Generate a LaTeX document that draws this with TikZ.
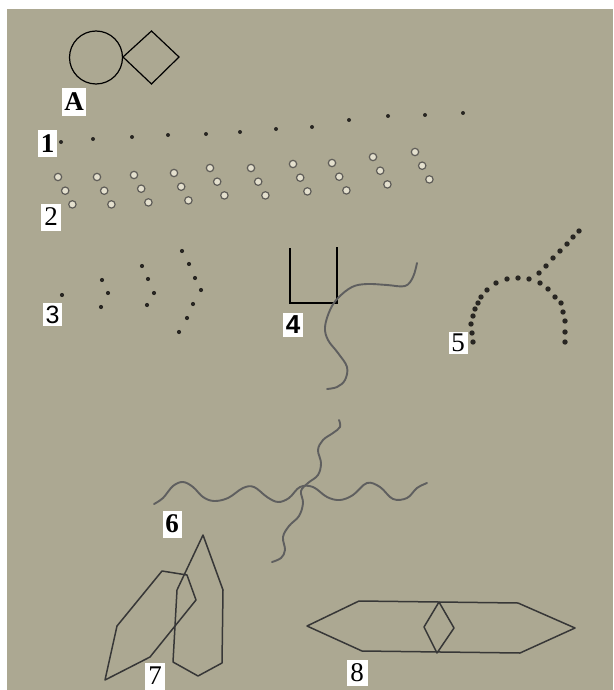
\documentclass[tikz,border=0pt]{standalone}
\usepackage{fontspec}
\setmainfont{Liberation Serif}
\setsansfont{Liberation Sans}
\definecolor{bg}{RGB}{172,168,146}
\definecolor{ringfill}{RGB}{228,224,206}
\definecolor{ringline}{RGB}{95,93,88}
\definecolor{wave}{RGB}{95,95,95}
\definecolor{poly}{RGB}{55,55,55}
\definecolor{dotc}{RGB}{40,38,34}
\tikzset{
  lbl/.style={fill=white, inner sep=0pt, font=\fontsize{27}{27}\selectfont\bfseries},
  lbls/.style={fill=white, inner sep=0pt, font=\fontsize{26}{26}\selectfont\sffamily\bfseries},
  lblr/.style={fill=white, inner sep=0pt, font=\fontsize{27}{27}\selectfont},
  ring/.style={draw=ringline, fill=ringfill, line width=1.2pt},
  waveline/.style={draw=wave, line width=1.9pt, line cap=round},
  polyline/.style={draw=poly, line width=1.5pt, line join=round},
  shapeA/.style={draw=black, line width=1.2pt}
}
\begin{document}
\begin{tikzpicture}[x=1pt,y=-1pt]
\useasboundingbox (0,0) rectangle (613,690);
\fill[white] (0,0) rectangle (613,690);
\fill[bg] (7,9) rectangle (613,690);

% A
\draw[shapeA] (96,57.5) circle[radius=26.5];
\draw[shapeA] (123,57) -- (151.5,31) -- (179,57) -- (151.5,84) -- cycle;
\node[lbl, minimum width=24pt, minimum height=28pt] (lA) at (74,102) {A};

% 1
\foreach \x/\y in {61/142,93/139,132/137,168/135,206/134,240/132,276/129,312/127,349/120,388/116,425/115,463/113}
  \fill[dotc] (\x,\y) circle[radius=2];
\node[lbl, minimum width=19pt, minimum height=27pt] (l1) at (47.5,143.5) {1};

% 2
\foreach \x/\y in {58/177,97/177,134/175,174/173,210/168,251/168,293/164,332/163,373/157,415/152}
  \foreach \i in {0,1,2}
    \draw[ring] (\x+7.2*\i,\y+13.7*\i) circle[radius=3.7];
\node[lblr, minimum width=20pt, minimum height=27pt] (l2) at (51,217) {2};

% 3
\foreach \x/\y in {62/295,102/280,108/293,101/307,142/266,148/279,154/293,147/305,182/251,189/264,195/278,201/290,193/304,187/318,179/332}
  \fill[dotc] (\x,\y) circle[radius=2.1];
\node[lbls, font=\fontsize{25}{25}\selectfont\sffamily, minimum width=19pt, minimum height=23pt] (l3) at (52.5,314.5) {3};

% 4
\draw[black, line width=1.5pt] (290,248) -- (290,303) -- (337,303) -- (337,247);
\draw[waveline] plot[smooth, tension=0.6] coordinates {(327,389) (337,387) (345,380) (347,367) (338,353) (328,340) (325,327) (330,310) (338,298) (352,287) (367,284) (387,285) (405,286) (413,277) (417,263)};
\node[lbls, minimum width=20pt, minimum height=24pt] (l4) at (293,325) {4};

% 5
\foreach \x/\y in {473/342,472/333,471/324,473/316,475/309,478/303,481/297,487/290,496/283,507/279,518/278,529/279,539/273,546/266,553/258,560/251,567/244,573/237,579/231,540/283,548/289,555/297,561/303,563/312,565/321,565/332,565/342}
  \fill[dotc] (\x,\y) circle[radius=2.7];
\node[lblr, minimum width=19pt, minimum height=22pt] (l5) at (458,343) {5};

% 6
\draw[waveline] plot[smooth, tension=0.6] coordinates {(154,504) (163,498) (173,486) (183,482) (193,487) (203,497) (214,501) (228,498) (243,488) (254,487) (267,497) (278,502) (289,498) (300,487) (313,487) (327,497) (340,500) (353,495) (367,483) (380,487) (393,499) (407,498) (417,488) (427,483)};
\draw[waveline] plot[smooth, tension=0.6] coordinates {(339,420) (340,427) (333,433) (323,440) (318,450) (321,463) (318,475) (308,483) (301,491) (303,503) (299,516) (289,526) (283,537) (285,550) (281,558) (272,562)};
\node[lbl, minimum width=19pt, minimum height=27pt] (l6) at (172,524) {6};

% 7
\draw[polyline] (105,680) -- (117,626) -- (162,571) -- (187,575) -- (196,600) -- (150,657) -- cycle;
\draw[polyline] (203,535) -- (223,590) -- (222,663) -- (198,676) -- (173,662) -- (177,590) -- cycle;
\node[lblr, minimum width=20pt, minimum height=27pt] (l7) at (155,676) {7};

% 8
\draw[polyline] (307,626) -- (359,601) -- (518,603) -- (575,628) -- (520,653) -- (362,651) -- cycle;
\draw[polyline] (439,602) -- (454,628) -- (437,653) -- (424,627) -- cycle;
\node[lblr, minimum width=21pt, minimum height=26pt] (l8) at (357,673) {8};
\end{tikzpicture}
\end{document}
